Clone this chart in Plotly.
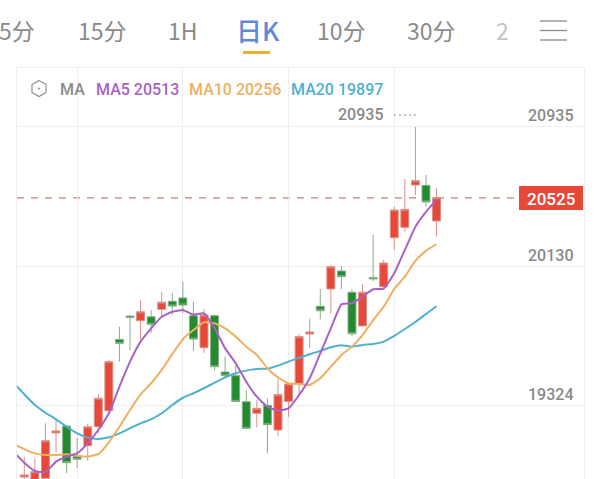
import plotly.graph_objects as go

# Candle data (index 0..39)
opens = [18908,18833,18901,19163,19203,19031,19089,19199,19292,19705,19840,19813,19836,19879,19926,19945,19842,19657,19842,19516,
         19495,19344,19277,19323,19180,19346,19447,19736,19897,19997,20101,19978,19783,20063,20010,20294,20354,20599,20597,20391]
highs = [19026,19016,19219,19238,19209,19134,19215,19389,19586,19778,19846,19933,19875,19981,19975,20039,19922,19881,19846,19605,
         19551,19412,19354,19364,19474,19450,19736,19825,19997,20136,20132,19995,20024,20310,20165,20473,20634,20935,20657,20580]
lows = [18880,18800,18890,19053,18931,18960,19001,19163,19267,19576,19640,19702,19742,19836,19846,19858,19638,19628,19524,19481,
        19342,19186,19196,19045,19147,19257,19383,19655,19821,19856,19997,19725,19778,20043,20003,20223,20329,20541,20473,20300]
closes = [18920,18939,19118,19175,18991,19011,19199,19364,19576,19682,19832,19865,19792,19920,19898,19904,19707,19846,19547,19495,
          19346,19190,19306,19211,19385,19447,19721,19748,19871,20126,20068,19738,19978,20055,20147,20454,20458,20624,20501,20525]
candle_x = list(range(40))

# Moving averages (index -1..39)
ma_x = list(range(-1, 40))
ma5 = [19053,18991,18943,18935,18997,19026,19045,19103,19180,19277,19431,19576,19692,19769,19836,19865,19875,19848,19856,19771,19653,
       19567,19460,19373,19315,19292,19306,19383,19480,19624,19769,19908,19914,19952,19995,19999,20088,20223,20358,20444,20513]
ma10 = [19099,19070,19045,19035,19035,19040,19031,19026,19041,19109,19199,19296,19387,19451,19528,19620,19706,19759,19804,19798,19769,
        19721,19663,19615,19538,19485,19451,19447,19441,19480,19547,19615,19663,19730,19817,19894,19997,20068,20161,20219,20256]
ma20 = [19452,19387,19325,19280,19242,19199,19161,19136,19128,19138,19161,19190,19219,19242,19277,19325,19367,19393,19422,19454,19485,
        19509,19524,19534,19535,19553,19576,19599,19619,19638,19659,19671,19663,19673,19678,19692,19725,19765,19806,19852,19897]

price_ticks = [20935, 20130, 19324]
grid_x = [5, 15, 25, 35]
last_price = 20525
high_price = 20935
tabs = ["5分", "15分", "1H", "10分", "30分"]
tab_px = [17, 102, 183, 341, 431]

W, H = 600, 479
L, R, T, B = 17, 584, 68, 479
GRAY = "#8a8a8a"
RED, GREEN = "#e8483a", "#228b2d"
PURPLE, ORANGE, BLUE = "#a862c6", "#eeb060", "#4fafcf"
CJK = "Noto Sans CJK SC"
NUM = "Roboto"


def px(x):
    return (x - L) / (R - L)


def py(y):
    return (B - y) / (B - T)


def text(s, x, y, size=16, color=GRAY, anchor="center", family=NUM, weight=500):
    return dict(text=s, x=px(x), y=py(y), xref="paper", yref="paper", xanchor=anchor, yanchor="middle",
                showarrow=False, font=dict(size=size, color=color, family=family, weight=weight))


def rect(x0, y0, x1, y1, color):
    return dict(type="rect", xref="paper", yref="paper", x0=px(x0), x1=px(x1), y0=py(y0), y1=py(y1),
                fillcolor=color, line=dict(width=0), layer="above")


def hline(x0, x1, y, color, width=1.3, dash="solid"):
    return dict(type="line", xref="paper", yref="paper", x0=px(x0), x1=px(x1), y0=py(y), y1=py(y),
                line=dict(color=color, width=width, dash=dash), layer="above")


fig = go.Figure()
fig.add_trace(go.Candlestick(
    x=candle_x, open=opens, high=highs, low=lows, close=closes,
    increasing=dict(line=dict(color="#d98f86", width=1), fillcolor=RED),
    decreasing=dict(line=dict(color="#86ad88", width=1), fillcolor=GREEN),
    whiskerwidth=0, showlegend=False, hoverinfo="skip"))
for vals, col in ((ma20, BLUE), (ma10, ORANGE), (ma5, PURPLE)):
    fig.add_trace(go.Scatter(x=ma_x, y=vals, mode="lines", showlegend=False, hoverinfo="skip",
                             line=dict(color=col, width=2, shape="spline", smoothing=0.4)))

annotations = [text(s, x, 30, size=23, family=CJK, weight=400) for s, x in zip(tabs, tab_px)]
annotations += [
    text("2", 502, 30, size=23, color="#c4c4c4", family=CJK, weight=400),
    text("日K", 258, 30, size=26, color="#5f8ad6", family=CJK, weight=500),
    text("MA", 72, 89, size=16),
    text(f"MA5 {ma5[-1]}", 94, 89, color=PURPLE, anchor="left"),
    text(f"MA10 {ma10[-1]}", 187, 89, color=ORANGE, anchor="left"),
    text(f"MA20 {ma20[-1]}", 289, 89, color=BLUE, anchor="left"),
    text(str(high_price), 385, 115, anchor="right"),
    text(str(last_price), 551, 198.5, color="#ffffff", size=17),
]
for v in price_ticks:
    annotations.append(dict(text=str(v), x=px(575), y=v, xref="paper", yref="y", xanchor="right", yanchor="middle",
                            yshift=11, showarrow=False, font=dict(size=16, color=GRAY, family=NUM, weight=500)))

shapes = [
    dict(type="line", xref="paper", yref="y", x0=0, x1=px(520), y0=last_price, y1=last_price,
         line=dict(color="#c97c78", width=1.2, dash="7px,7px"), layer="below"),
    rect(519, 186, 583, 210, RED),
    rect(243, 51, 270, 54, "#e8b030"),
    hline(540, 567, 21, GRAY), hline(540, 567, 30.5, GRAY), hline(540, 567, 40, GRAY),
    hline(394, 416, 115, GRAY, 1.2, "2px,3px"),
    # hexagon icon of the indicator switch
    dict(type="path", xref="paper", yref="paper", layer="above", line=dict(color=GRAY, width=1.1),
         path="M {} {} L {} {} L {} {} L {} {} L {} {} L {} {} Z".format(
             px(39), py(80.5), px(46), py(84.5), px(46), py(92.5), px(39), py(96.5), px(32), py(92.5), px(32), py(84.5))),
    dict(type="circle", xref="paper", yref="paper", layer="above", fillcolor=GRAY, line=dict(width=0),
         x0=px(38), x1=px(40), y0=py(89.5), y1=py(87.5)),
]

fig.update_layout(
    width=W, height=H, autosize=False,
    margin=dict(l=L, r=W - R, t=T, b=H - B, pad=0),
    paper_bgcolor="#ffffff", plot_bgcolor="#ffffff",
    boxgap=0.25, boxgroupgap=0,
    annotations=annotations, shapes=shapes,
    xaxis=dict(range=[-0.69, 52.95], side="top", tickvals=grid_x, showticklabels=False, ticks="",
               showgrid=True, gridcolor="#eeeeee", gridwidth=1, zeroline=False,
               showline=True, linecolor="#eeeeee", linewidth=1, rangeslider=dict(visible=False)),
    yaxis=dict(range=[18896.5, 21276.6], tickvals=price_ticks, showticklabels=False, ticks="",
               showgrid=True, gridcolor="#eeeeee", gridwidth=1, zeroline=False,
               showline=True, linecolor="#eeeeee", linewidth=1, mirror=True),
)

fig.write_html("out.html", config=dict(displayModeBar=False),
               post_script="document.body.style.margin='0';document.body.style.overflow='hidden';")
